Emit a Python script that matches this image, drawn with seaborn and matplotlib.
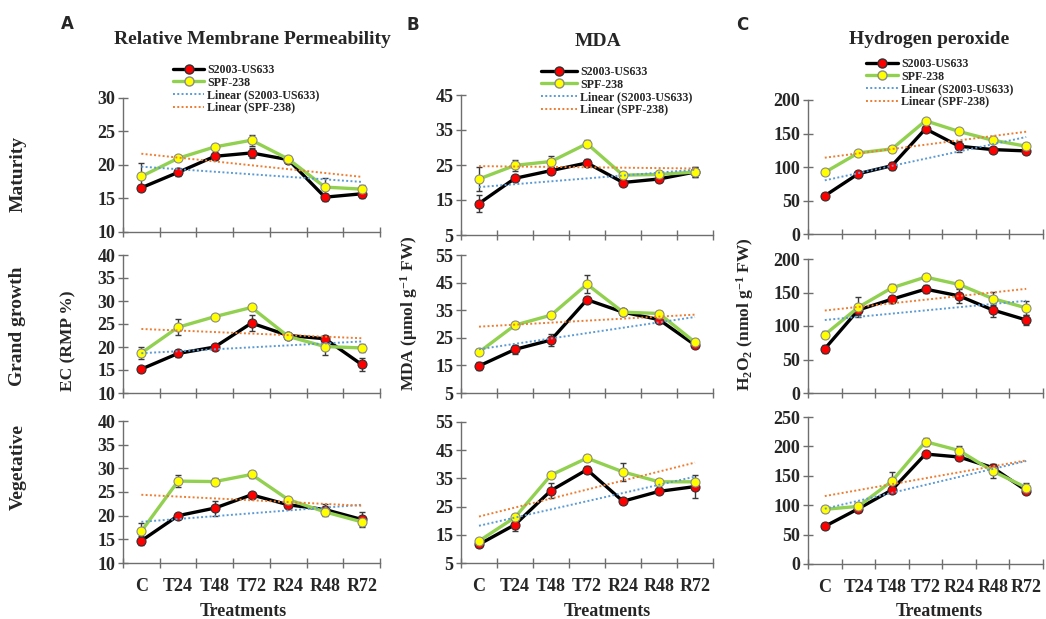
import numpy as np
import matplotlib
matplotlib.use('Agg')
import matplotlib.pyplot as plt
import seaborn as sns
from matplotlib.lines import Line2D

# Treatments on the x axis
treatments = ['C', 'T24', 'T48', 'T72', 'R24', 'R48', 'R72']

# Relative membrane permeability (EC, RMP %)
rmp_mat_s = [16.6, 18.9, 21.3, 21.8, 20.8, 15.2, 15.7]
rmp_mat_p = [18.3, 21.0, 22.7, 23.7, 20.9, 16.7, 16.4]
rmp_gg_s = [15.2, 18.6, 20.0, 25.2, 22.5, 21.8, 16.2]
rmp_gg_p = [18.7, 24.3, 26.6, 28.6, 22.3, 20.1, 19.8]
rmp_veg_s = [14.7, 20.0, 21.6, 24.4, 22.3, 21.3, 19.2]
rmp_veg_p = [16.7, 27.3, 27.2, 28.7, 23.4, 20.8, 18.7]
rmp_mat_s_err = [0.4, 0.6, 0.5, 0.7, 0.4, 0.5, 0.6]
rmp_mat_p_err = [2.0, 0.3, 0.5, 0.8, 0.3, 1.3, 0.6]
rmp_gg_s_err = [0.5, 0.8, 0.5, 1.8, 0.4, 0.5, 1.5]
rmp_gg_p_err = [1.2, 1.7, 0.4, 0.5, 0.5, 1.8, 0.8]
rmp_veg_s_err = [0.9, 0.4, 1.6, 0.4, 0.5, 1.2, 1.6]
rmp_veg_p_err = [1.7, 1.2, 0.7, 0.7, 0.4, 0.8, 0.8]

# MDA (umol g-1 FW)
mda_mat_s = [14.0, 21.2, 23.4, 25.6, 20.0, 21.0, 23.0]
mda_mat_p = [21.0, 24.9, 26.0, 31.1, 22.1, 22.3, 23.0]
mda_gg_s = [14.8, 20.8, 24.2, 38.8, 34.3, 31.6, 22.4]
mda_gg_p = [19.8, 29.6, 33.2, 44.4, 34.3, 33.8, 23.4]
mda_veg_s = [11.6, 18.6, 30.7, 38.1, 26.9, 30.4, 32.1]
mda_veg_p = [12.8, 21.2, 36.2, 42.2, 37.3, 33.8, 33.8]
mda_mat_s_err = [2.5, 0.8, 1.0, 1.0, 0.8, 0.8, 1.5]
mda_mat_p_err = [3.5, 1.5, 1.7, 1.0, 0.8, 0.6, 1.5]
mda_gg_s_err = [1.3, 1.5, 2.0, 1.0, 0.8, 0.8, 0.8]
mda_gg_p_err = [1.2, 1.0, 1.2, 3.2, 0.8, 0.8, 1.0]
mda_veg_s_err = [0.8, 2.2, 2.6, 1.2, 0.6, 0.6, 4.0]
mda_veg_p_err = [0.8, 1.2, 1.0, 1.0, 3.3, 0.6, 0.6]

# Hydrogen peroxide (nmol g-1 FW)
h2o2_mat_s = [57, 90, 102, 157, 131, 126, 124]
h2o2_mat_p = [92, 121, 127, 169, 153, 140, 131]
h2o2_gg_s = [66, 124, 140, 155, 145, 124, 109]
h2o2_gg_p = [87, 128, 157, 173, 162, 141, 127]
h2o2_veg_s = [64, 94, 126, 187, 182, 164, 125]
h2o2_veg_p = [93, 98, 141, 208, 193, 158, 130]
h2o2_mat_s_err = [4, 2, 6, 3, 8, 3, 4]
h2o2_mat_p_err = [3, 3, 5, 3, 3, 3, 5]
h2o2_gg_s_err = [6, 8, 5, 6, 10, 10, 7]
h2o2_gg_p_err = [5, 15, 5, 5, 5, 10, 10]
h2o2_veg_s_err = [5, 6, 6, 4, 5, 6, 5]
h2o2_veg_p_err = [5, 5, 15, 7, 8, 12, 8]

sns.set_style('ticks')
plt.rcParams['font.family'] = ['Liberation Serif', 'DejaVu Serif']
plt.rcParams['font.weight'] = 'bold'
plt.rcParams['mathtext.fontset'] = 'custom'
plt.rcParams['mathtext.rm'] = 'Liberation Serif:bold'
plt.rcParams['mathtext.bf'] = 'Liberation Serif:bold'
plt.rcParams['mathtext.it'] = 'Liberation Serif:bold'

W, H = 1046, 619
fig = plt.figure(figsize=(W / 100, H / 100), dpi=100)

AXIS_COL = '#6e6e6e'
BLUE = '#5B9BD5'
ORANGE = '#ED7D31'
GREEN = '#92D050'


def add_ax(left, right, top, bottom):
    return fig.add_axes([left / W, 1 - bottom / H, (right - left) / W, (bottom - top) / H])


def draw_panel(ax, s, p, s_err, p_err, ylim, ystep, bottom_row):
    x = np.arange(len(treatments))
    ax.errorbar(x, s, yerr=s_err, fmt='none', ecolor='#3a3a3a', elinewidth=1,
                capsize=2.5, capthick=1, zorder=2)
    ax.errorbar(x, p, yerr=p_err, fmt='none', ecolor='#3a3a3a', elinewidth=1,
                capsize=2.5, capthick=1, zorder=2)
    sns.lineplot(x=x, y=s, ax=ax, color='black', lw=2.4, marker='o', markersize=6.5,
                 markerfacecolor='#FF0000', markeredgecolor='#303030',
                 markeredgewidth=0.8, zorder=3)
    sns.lineplot(x=x, y=p, ax=ax, color=GREEN, lw=2.4, marker='o', markersize=6.5,
                 markerfacecolor='#FFFF00', markeredgecolor='#8a8a8a',
                 markeredgewidth=0.8, zorder=4)
    # linear trend lines
    sns.regplot(x=x, y=np.array(s, dtype=float), ax=ax, scatter=False, ci=None, truncate=True,
                line_kws=dict(color=BLUE, lw=1.4, ls=(0, (1, 1.2)), zorder=5))
    sns.regplot(x=x, y=np.array(p, dtype=float), ax=ax, scatter=False, ci=None, truncate=True,
                line_kws=dict(color=ORANGE, lw=1.4, ls=(0, (1, 1.2)), zorder=5))

    ax.set_xlim(-0.5, len(treatments) - 0.5)
    ax.set_ylim(*ylim)
    ax.set_yticks(np.arange(ylim[0], ylim[1] + 0.1, ystep))
    ax.set_xticks(np.arange(-0.5, len(treatments), 1))
    ax.set_xticklabels([])
    ax.set_xticks(x, minor=True)
    ax.set_xticklabels(treatments if bottom_row else [], minor=True, fontsize=13,
                       fontweight='bold')
    ax.tick_params(which='major', direction='inout', length=7, width=1, color=AXIS_COL,
                   labelsize=13, pad=2)
    ax.tick_params(axis='x', which='minor', length=0, pad=11)
    for lab in ax.get_yticklabels():
        lab.set_fontweight('bold')
    ax.set_xlabel('')
    ax.set_ylabel('')
    sns.despine(ax=ax)
    for side in ['left', 'bottom']:
        ax.spines[side].set_color(AXIS_COL)
        ax.spines[side].set_linewidth(1)
    ax.patch.set_alpha(0)


# columns: (left, right), rows: (top, bottom) in pixels
col_a = (123, 380)
col_b = (461, 713)
col_c = (808, 1043)
rows_a = [(98, 232), (255, 393), (421, 563)]
rows_b = [(95, 235), (255, 393), (422, 563)]
rows_c = [(100, 234), (259, 393), (417, 564)]

panels = [
    (col_a, rows_a, [(rmp_mat_s, rmp_mat_p, rmp_mat_s_err, rmp_mat_p_err, (10, 30), 5),
                     (rmp_gg_s, rmp_gg_p, rmp_gg_s_err, rmp_gg_p_err, (10, 40), 5),
                     (rmp_veg_s, rmp_veg_p, rmp_veg_s_err, rmp_veg_p_err, (10, 40), 5)]),
    (col_b, rows_b, [(mda_mat_s, mda_mat_p, mda_mat_s_err, mda_mat_p_err, (5, 45), 10),
                     (mda_gg_s, mda_gg_p, mda_gg_s_err, mda_gg_p_err, (5, 55), 10),
                     (mda_veg_s, mda_veg_p, mda_veg_s_err, mda_veg_p_err, (5, 55), 10)]),
    (col_c, rows_c, [(h2o2_mat_s, h2o2_mat_p, h2o2_mat_s_err, h2o2_mat_p_err, (0, 200), 50),
                     (h2o2_gg_s, h2o2_gg_p, h2o2_gg_s_err, h2o2_gg_p_err, (0, 200), 50),
                     (h2o2_veg_s, h2o2_veg_p, h2o2_veg_s_err, h2o2_veg_p_err, (0, 250), 50)]),
]

top_axes = []
for (left, right), rows, specs in panels:
    for i, ((top, bottom), spec) in enumerate(zip(rows, specs)):
        ax = add_ax(left, right, top, bottom)
        s, p, se, pe, ylim, step = spec
        draw_panel(ax, s, p, se, pe, ylim, step, bottom_row=(i == 2))
        if i == 0:
            top_axes.append(ax)

# legends
legend_handles = [
    Line2D([], [], color='black', lw=2.4, marker='o', markersize=6.5,
           markerfacecolor='#FF0000', markeredgecolor='#303030'),
    Line2D([], [], color=GREEN, lw=2.4, marker='o', markersize=6.5,
           markerfacecolor='#FFFF00', markeredgecolor='#8a8a8a'),
    Line2D([], [], color=BLUE, lw=1.4, ls=(0, (1, 1.2))),
    Line2D([], [], color=ORANGE, lw=1.4, ls=(0, (1, 1.2))),
]
legend_labels = ['S2003-US633', 'SPF-238', 'Linear (S2003-US633)', 'Linear (SPF-238)']
legend_pos = [(173, 64, 2.6), (541, 66, 3.0), (866, 58, 2.7)]
for ax, (lx, ly, hl) in zip(top_axes, legend_pos):
    ax.legend(legend_handles, legend_labels, loc='upper left',
              bbox_to_anchor=(lx / W, 1 - ly / H), bbox_transform=fig.transFigure,
              frameon=False, handlelength=hl, handletextpad=0.25,
              labelspacing=0.05, borderpad=0, borderaxespad=0,
              prop={'weight': 'bold', 'size': 8.6})


def ftext(x, y, s, **kw):
    fig.text(x / W, 1 - y / H, s, **kw)


# panel letters and titles
ftext(67, 24, 'A', family='DejaVu Sans', fontsize=12, fontweight='bold', ha='center', va='center')
ftext(413, 25, 'B', family='DejaVu Sans', fontsize=12, fontweight='bold', ha='center', va='center')
ftext(742, 25, 'C', family='DejaVu Sans', fontsize=12, fontweight='bold', ha='center', va='center')
ftext(252, 40, 'Relative Membrane Permeability', fontsize=14, fontweight='bold', ha='center', va='center')
ftext(598, 42, 'MDA', fontsize=14, fontweight='bold', ha='center', va='center')
ftext(929, 40, 'Hydrogen peroxide', fontsize=14, fontweight='bold', ha='center', va='center')

# row labels
ftext(18, 174, 'Maturity', fontsize=14, fontweight='bold', rotation=90, ha='center', va='center')
ftext(18, 326, 'Grand growth', fontsize=14, fontweight='bold', rotation=90, ha='center', va='center')
ftext(18, 467, 'Vegetative', fontsize=14, fontweight='bold', rotation=90, ha='center', va='center')

# y axis labels
ftext(68, 341, 'EC (RMP %)', fontsize=12.5, fontweight='bold', rotation=90, ha='center', va='center')
ftext(409, 313, r'MDA ($\mathregular{\mu}$mol g$^{-1}$ FW)', fontsize=12.5, fontweight='bold',
      rotation=90, ha='center', va='center')
ftext(745, 314, r'H$_2$O$_2$ (nmol g$^{-1}$ FW)', fontsize=12.5, fontweight='bold',
      rotation=90, ha='center', va='center')

# x axis labels
ftext(243, 612, 'Treatments', fontsize=13, fontweight='bold', ha='center', va='center')
ftext(607, 612, 'Treatments', fontsize=13, fontweight='bold', ha='center', va='center')
ftext(939, 612, 'Treatments', fontsize=13, fontweight='bold', ha='center', va='center')

fig.savefig('out.png', dpi=100)
